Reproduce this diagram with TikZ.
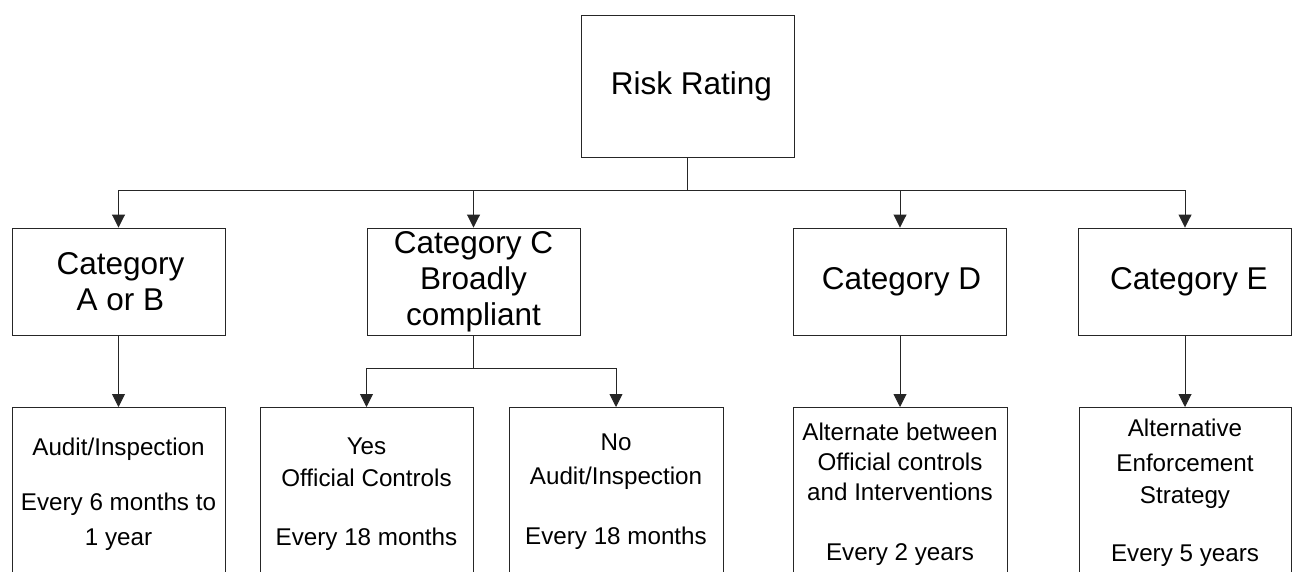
\documentclass[tikz,border=0pt]{standalone}
\usepackage{fontspec}
\setmainfont{Liberation Sans}
\usetikzlibrary{arrows.meta}
\tikzset{
  box/.style={draw=black!85, line width=0.9pt, rectangle, inner sep=0pt, align=center},
  catbox/.style={box, minimum width=213pt, minimum height=107pt, font=\fontsize{31.5}{36}\selectfont},
  lowbox/.style={box, anchor=north, minimum height=260pt},
  lowtext/.style={anchor=north, inner sep=0pt, align=center, font=\fontsize{24.2}{32}\selectfont},
  conn/.style={draw=black!85, line width=0.9pt},
  arr/.style={conn, -{Triangle[length=13pt,width=13pt]}}
}
\begin{document}
\begin{tikzpicture}[x=1pt,y=-1pt]
\useasboundingbox (0,0) rectangle (1295,572);
\clip (0,0) rectangle (1295,572);
\fill[white] (0,0) rectangle (1295,572);

% top
\node[box, minimum width=213pt, minimum height=142pt, font=\fontsize{31.5}{36}\selectfont] (rr) at (687.5,86) {\hspace*{8pt}Risk Rating};

% categories
\node[catbox] (ab) at (118.5,281.5) {\hspace*{4pt}Category\\\hspace*{4pt}A or B};
\node[catbox] (cc) at (473.5,281.5) {Category C\\Broadly\\compliant};
\node[catbox] (cd) at (900,281.5) {\hspace*{3pt}Category D};
\node[catbox] (ce) at (1185,281.5) {\hspace*{8pt}Category E};

% bottom boxes
\node[lowbox, minimum width=213pt] (lab) at (118.5,407) {};
\node[lowbox, minimum width=213pt] (lyes) at (366.5,407) {};
\node[lowbox, minimum width=214pt] (lno) at (616,407) {};
\node[lowbox, minimum width=214pt] (ld) at (900,407) {};
\node[lowbox, minimum width=212pt] (le) at (1185,407) {};

% bottom texts
\node[lowtext] (tab) at (118.5,438) {Audit/Inspection\\[23pt]Every 6 months to\\[3pt]1 year};
\node[lowtext] (tyes) at (366.5,438) {Yes\\Official Controls\\[27pt]Every 18 months};
\node[lowtext] (tno) at (616,434) {No\\[2pt]Audit/Inspection\\[28pt]Every 18 months};
\node[lowtext] (td) at (900,423) {Alternate between\\[-2pt]Official controls\\[-2pt]and Interventions\\[28pt]Every 2 years};
\node[lowtext] (te) at (1185,419) {Alternative\\[3pt]Enforcement\\Strategy\\[26pt]Every 5 years};

% connectors
\coordinate (bus) at (687.5,190.5);
\draw[arr] (rr.south) -- (bus) -| (ab.north);
\draw[arr] (rr.south) -- (bus) -| (cc.north);
\draw[arr] (rr.south) -- (bus) -| (cd.north);
\draw[arr] (rr.south) -- (bus) -| (ce.north);

\coordinate (cbus) at (473.5,368);
\draw[arr] (cc.south) -- (cbus) -| (lyes.north);
\draw[arr] (cc.south) -- (cbus) -| (lno.north);

\draw[arr] (ab.south) -- (lab.north);
\draw[arr] (cd.south) -- (ld.north);
\draw[arr] (ce.south) -- (le.north);
\end{tikzpicture}
\end{document}
